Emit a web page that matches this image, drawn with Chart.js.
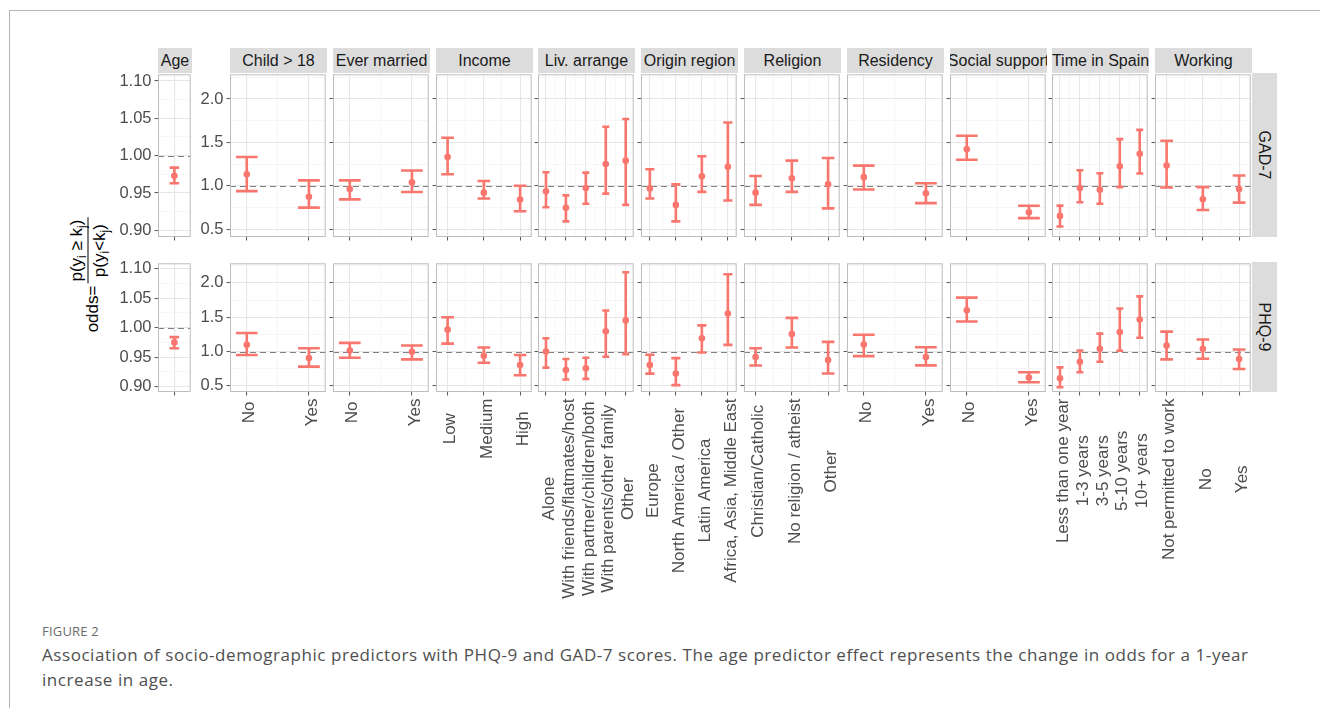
<!DOCTYPE html>
<html>
<head>
<meta charset="utf-8">
<script src="https://cdn.jsdelivr.net/npm/chart.js@4.4.1/dist/chart.umd.min.js"></script>
<style>
  body { margin: 0; width: 1320px; height: 708px; overflow: hidden; position: relative; background: #fff; font-family: "Liberation Sans", Arial, sans-serif; }
  .frame { position: absolute; left: 9px; top: 10px; width: 1320px; height: 710px; border-left: 1px solid #b5b5b5; border-top: 1px solid #b5b5b5; }
  .strip { position: absolute; background: #dcdcdc; color: #1a1a1a; font-size: 16px; display: flex; align-items: center; justify-content: center; overflow: hidden; white-space: nowrap; }
  .strip.side span { transform: rotate(90deg); }
  #yTitle { position: absolute; left: 88px; top: 275px; transform: translate(-50%, -50%) rotate(-90deg); display: flex; align-items: center; font-size: 17px; color: #000; white-space: nowrap; }
  #yTitle .odds { position: relative; top: 4px; }
  #yTitle .frac { display: inline-flex; flex-direction: column; align-items: center; margin-left: 2px; }
  #yTitle .num { border-bottom: 1.3px solid #000; padding: 0 2px 1px; }
  #yTitle .den { padding-top: 1px; }
  #yTitle sub { font-size: 0.7em; vertical-align: -0.35em; line-height: 0; }
  .figLabel { position: absolute; left: 42px; top: 622px; font-family: "Open Sans", sans-serif; font-size: 13px; letter-spacing: 0.2px; color: #6b6b6b; }
  .caption { position: absolute; left: 42px; top: 642px; font-family: "Open Sans", sans-serif; font-size: 17px; letter-spacing: 0.56px; line-height: 25px; color: #4f4f4f; white-space: nowrap; }
</style>
</head>
<body>
<div class="frame"></div>
<div id="yTitle"><span class="odds">odds=</span><span class="frac"><span class="num">p(y<sub>i</sub> ≥ k<sub>j</sub>)</span><span class="den">p(y<sub>i</sub>&lt;k<sub>j</sub>)</span></span></div>
<div class="figLabel">FIGURE 2</div>
<div class="caption">Association of socio-demographic predictors with PHQ-9 and GAD-7 scores. The age predictor effect represents the change in odds for a 1-year<br>increase in age.</div>
<script>
// ---- data ----
const rowNames = ["GAD-7", "PHQ-9"];
const groupNames = ["Child > 18", "Ever married", "Income", "Liv. arrange", "Origin region", "Religion", "Residency", "Social support", "Time in Spain", "Working"];
const groupLevels = [
  ["No", "Yes"],
  ["No", "Yes"],
  ["Low", "Medium", "High"],
  ["Alone", "With friends/flatmates/host", "With partner/children/both", "With parents/other family", "Other"],
  ["Europe", "North America / Other", "Latin America", "Africa, Asia, Middle East"],
  ["Christian/Catholic", "No religion / atheist", "Other"],
  ["No", "Yes"],
  ["No", "Yes"],
  ["Less than one year", "1-3 years", "3-5 years", "5-10 years", "10+ years"],
  ["Not permitted to work", "No", "Yes"]
];

const gadOdds = [
  [1.134, 0.874], [0.962, 1.039], [1.332, 0.921, 0.841], [0.936, 0.747, 0.974, 1.25, 1.29],
  [0.97, 0.78, 1.11, 1.22], [0.921, 1.087, 1.017], [1.1, 0.913], [1.42, 0.695],
  [0.653, 0.974, 0.954, 1.225, 1.37], [1.233, 0.844, 0.962]
];
const gadLow = [
  [0.939, 0.748], [0.844, 0.928], [1.133, 0.853, 0.707], [0.753, 0.59, 0.794, 0.91, 0.78],
  [0.853, 0.59, 0.93, 0.83], [0.78, 0.93, 0.74], [0.958, 0.8], [1.3, 0.627],
  [0.531, 0.81, 0.794, 0.985, 1.142], [0.98, 0.722, 0.806]
];
const gadHigh = [
  [1.332, 1.062], [1.062, 1.176], [1.553, 1.055, 1.0], [1.156, 0.89, 1.152, 1.68, 1.77],
  [1.19, 1.017, 1.34, 1.73], [1.113, 1.29, 1.32], [1.233, 1.03], [1.577, 0.77],
  [0.771, 1.18, 1.145, 1.538, 1.645], [1.52, 0.985, 1.119]
];

const phqOdds = [
  [1.097, 0.904], [1.015, 0.996], [1.318, 0.938, 0.803], [1.0, 0.731, 0.755, 1.294, 1.453],
  [0.803, 0.68, 1.193, 1.553], [0.92, 1.255, 0.875], [1.101, 0.92], [1.602, 0.62],
  [0.61, 0.851, 1.039, 1.284, 1.467], [1.087, 1.039, 0.89]
];
const phqLow = [
  [0.948, 0.78], [0.909, 0.885], [1.115, 0.837, 0.653], [0.765, 0.592, 0.601, 0.923, 0.962],
  [0.678, 0.51, 0.986, 1.097], [0.795, 1.058, 0.68], [0.933, 0.798], [1.438, 0.553],
  [0.48, 0.697, 0.851, 1.01, 1.2], [0.885, 0.894, 0.745]
];
const phqHigh = [
  [1.27, 1.048], [1.126, 1.087], [1.5, 1.058, 0.948], [1.193, 0.89, 0.909, 1.597, 2.155],
  [0.952, 0.904, 1.38, 2.125], [1.048, 1.49, 1.14], [1.245, 1.063], [1.785, 0.697],
  [0.769, 1.015, 1.26, 1.626, 1.803], [1.289, 1.174, 1.029]
];

const ageOdds = [0.973, 0.975];
const ageLow = [0.963, 0.965];
const ageHigh = [0.984, 0.984];

const oddsTicks = [0.5, 1.0, 1.5, 2.0];
const ageTicks = [0.9, 0.95, 1.0, 1.05, 1.1];

// ---- look ----
const RED = "#F8766D";
const GRID_MAJOR = "#e6e6e6";
const GRID_MINOR = "#f2f2f2";
const TICK_COLOR = "#555555";
const TEXT_COLOR = "#4d4d4d";
const FONT = '"Liberation Sans", Arial, sans-serif';
const Y_TICK_SIZE = 16.5;
const X_TICK_SIZE = 17;
const CAP = 0.35;

const rowTops = [73, 262];
const rowHeights = [164, 130];
const STRIP_TOP = 48;
const STRIP_H = 25;
const SIDE_W = 25;
const PANEL_W = 97;
const AGE_LEFT = 158;
const AGE_W = 34;
const PAD_T = 2;
const PAD_R = 2;
const X_AXIS_H = 6;
const LABEL_ROOM = 30;
const LABEL_NUDGE = 3;
const panelLeft = (i) => Math.round(230 + i * 102.8);
const xPadFor = { 1: 0.6, 2: 0.27, 3: 0.32, 4: 0.34, 5: 0.4 };
const ODDS_RANGE = [0.41, 2.285];
const AGE_RANGE = [0.891, 1.109];

const rowOdds = [gadOdds, phqOdds];
const rowLow = [gadLow, phqLow];
const rowHigh = [gadHigh, phqHigh];

const refLine = {
  id: "refLine",
  beforeDatasetsDraw(chart) {
    const { ctx, chartArea: a, scales } = chart;
    const py = Math.round(scales.y.getPixelForValue(1)) + 0.5;
    ctx.save();
    ctx.strokeStyle = "#808080";
    ctx.lineWidth = 1.2;
    ctx.setLineDash([6, 4]);
    ctx.beginPath();
    ctx.moveTo(a.left, py);
    ctx.lineTo(a.right, py);
    ctx.stroke();
    ctx.restore();
  },
};

const errorBars = {
  id: "errorBars",
  beforeDatasetsDraw(chart) {
    const { ctx, scales: { x, y } } = chart;
    ctx.save();
    ctx.strokeStyle = RED;
    ctx.lineWidth = 2.6;
    chart.data.datasets.forEach((ds) => {
      ds.data.forEach((pt, i) => {
        const px = x.getPixelForValue(pt.x);
        const x0 = x.getPixelForValue(pt.x - CAP / 2);
        const x1 = x.getPixelForValue(pt.x + CAP / 2);
        const lo = y.getPixelForValue(ds.low[i]);
        const hi = y.getPixelForValue(ds.high[i]);
        ctx.beginPath();
        ctx.moveTo(px, lo);
        ctx.lineTo(px, hi);
        ctx.moveTo(x0, lo);
        ctx.lineTo(x1, lo);
        ctx.moveTo(x0, hi);
        ctx.lineTo(x1, hi);
        ctx.stroke();
      });
    });
    ctx.restore();
  },
};

// rotated category labels are centred on the longest label of their own panel
const centerLabels = {
  id: "centerLabels",
  beforeDraw(chart) {
    const items = chart.scales.x.getLabelItems().filter((it) => it.label);
    if (!items.length) return;
    const { ctx } = chart;
    ctx.save();
    ctx.font = items[0].font.string;
    const widest = Math.max(...items.map((it) => ctx.measureText(it.label).width));
    ctx.restore();
    items.forEach((it) => {
      it.options.textAlign = "center";
      it.options.translation[1] += widest / 2;
    });
  },
};

const panelFrame = {
  id: "panelFrame",
  afterDraw(chart) {
    const { ctx, chartArea: a } = chart;
    ctx.save();
    ctx.strokeStyle = "#bdbdbd";
    ctx.lineWidth = 1;
    ctx.strokeRect(a.left + 0.5, a.top + 0.5, a.right - a.left - 1, a.bottom - a.top - 1);
    ctx.restore();
  },
};

const buildTicks = (majors, lo, hi, withMinor) => {
  const ticks = majors.map((v) => ({ value: v, minor: false }));
  if (withMinor && majors.length > 1) {
    const step = majors[1] - majors[0];
    for (let k = -1; k < majors.length; k++) {
      const m = majors[0] + (k + 0.5) * step;
      if (m > lo && m < hi) ticks.push({ value: m, minor: true });
    }
  }
  return ticks.sort((a, b) => a.value - b.value);
};

const isMinor = (c) => !!(c.tick && c.tick.minor);

const gridStyle = {
  color: (c) => (isMinor(c) ? GRID_MINOR : GRID_MAJOR),
  lineWidth: (c) => (isMinor(c) ? 0.7 : 1.1),
  tickColor: (c) => (isMinor(c) ? "rgba(0,0,0,0)" : TICK_COLOR),
  tickWidth: 1,
  tickLength: 3.5,
  drawTicks: true,
};

const makePanel = (p) => {
  const canvas = document.createElement("canvas");
  const room = p.showX ? LABEL_ROOM : 0;
  const w = room + p.axisW + p.width + PAD_R;
  const xAxisH = X_AXIS_H + p.bottomPad;
  const h = PAD_T + p.height + xAxisH;
  canvas.width = w;
  canvas.height = h;
  Object.assign(canvas.style, {
    position: "absolute",
    left: `${p.left - p.axisW - room}px`,
    top: `${p.top - PAD_T}px`,
    width: `${w}px`,
    height: `${h}px`,
  });
  document.body.appendChild(canvas);

  const n = p.levels.length;
  const pad = xPadFor[n];
  const xTicks = buildTicks(p.levels.map((_, i) => i + 1), 1 - pad, n + pad, p.xMinor);
  const yTicks = buildTicks(p.yTicks, p.yRange[0], p.yRange[1], true);

  new Chart(canvas, {
    type: "scatter",
    data: {
      datasets: [
        {
          data: p.odds.map((v, i) => ({ x: i + 1, y: v })),
          low: p.low,
          high: p.high,
          backgroundColor: RED,
          borderWidth: 0,
          pointRadius: 3.3,
          pointHoverRadius: 3.3,
        },
      ],
    },
    options: {
      responsive: false,
      animation: false,
      events: [],
      layout: { padding: { top: PAD_T, right: PAD_R, bottom: 0, left: room } },
      plugins: { legend: { display: false }, tooltip: { enabled: false } },
      scales: {
        x: {
          type: "linear",
          bounds: "data",
          min: 1 - pad,
          max: n + pad,
          afterBuildTicks: (s) => { s.ticks = xTicks.map((t) => ({ ...t })); },
          afterFit: (s) => { s.height = xAxisH; s.paddingLeft = 0; s.paddingRight = 0; },
          border: { display: false },
          grid: gridStyle,
          ticks: {
            autoSkip: false,
            minRotation: 90,
            maxRotation: 90,
            padding: 3,
            labelOffset: LABEL_NUDGE,
            color: TEXT_COLOR,
            font: { family: FONT, size: X_TICK_SIZE },
            callback: (v, i, t) => (p.showX && !t[i].minor ? p.levels[Math.round(v) - 1] : ""),
          },
        },
        y: {
          type: "linear",
          bounds: "data",
          min: p.yRange[0],
          max: p.yRange[1],
          afterBuildTicks: (s) => { s.ticks = yTicks.map((t) => ({ ...t })); },
          afterFit: (s) => { s.width = p.axisW; s.paddingTop = 0; s.paddingBottom = 0; },
          border: { display: false },
          grid: gridStyle,
          ticks: {
            autoSkip: false,
            padding: 3,
            color: TEXT_COLOR,
            font: { family: FONT, size: Y_TICK_SIZE },
            callback: (v, i, t) => (p.showY && !t[i].minor ? v.toFixed(p.digits) : ""),
          },
        },
      },
    },
    plugins: [refLine, errorBars, centerLabels, panelFrame],
  });
};

const addStrip = (text, left, top, width, height, side) => {
  const div = document.createElement("div");
  div.className = side ? "strip side" : "strip";
  Object.assign(div.style, { left: `${left}px`, top: `${top}px`, width: `${width}px`, height: `${height}px` });
  const span = document.createElement("span");
  span.textContent = text;
  div.appendChild(span);
  document.body.appendChild(div);
};

const setupStrips = () => {
  addStrip("Age", AGE_LEFT, STRIP_TOP, AGE_W, STRIP_H, false);
  groupNames.forEach((name, g) => addStrip(name, panelLeft(g), STRIP_TOP, PANEL_W, STRIP_H, false));
  rowNames.forEach((name, r) => addStrip(name, panelLeft(groupNames.length - 1) + PANEL_W, rowTops[r], SIDE_W, rowHeights[r], true));
};

const setupPanels = () => {
  rowNames.forEach((row, r) => {
    const lastRow = r === rowNames.length - 1;
    makePanel({
      left: AGE_LEFT, top: rowTops[r], width: AGE_W, height: rowHeights[r],
      axisW: 46, levels: ["Age"], showX: false, showY: true, digits: 2,
      yRange: AGE_RANGE, yTicks: ageTicks, xMinor: false, bottomPad: 2,
      odds: [ageOdds[r]], low: [ageLow[r]], high: [ageHigh[r]],
    });
    groupNames.forEach((g, i) => {
      makePanel({
        left: panelLeft(i), top: rowTops[r], width: PANEL_W, height: rowHeights[r],
        axisW: i === 0 ? 40 : 5, levels: groupLevels[i], showX: lastRow, showY: i === 0, digits: 1,
        yRange: ODDS_RANGE, yTicks: oddsTicks, xMinor: true,
        bottomPad: lastRow ? 215 : 2,
        odds: rowOdds[r][i], low: rowLow[r][i], high: rowHigh[r][i],
      });
    });
  });
};

setupStrips();
setupPanels();
</script>
</body>
</html>
